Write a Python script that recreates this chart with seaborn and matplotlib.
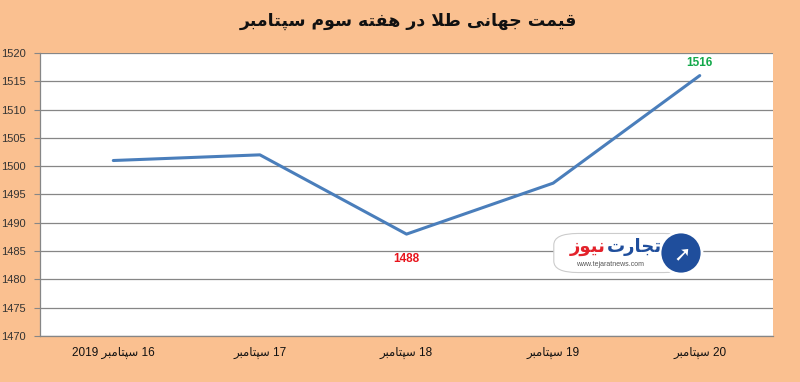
import matplotlib
matplotlib.use("Agg")
import matplotlib.pyplot as plt
import seaborn as sns
import pandas as pd
from matplotlib.patches import FancyBboxPatch, Ellipse

# data
days = ["16 سپتامبر 2019", "17 سپتامبر", "18 سپتامبر", "19 سپتامبر", "20 سپتامبر"]
prices = [1501, 1502, 1488, 1497, 1516]
title_txt = "قیمت جهانی طلا در هفته سوم سپتامبر"
yticks = list(range(1470, 1521, 5))

bg = "#FAC090"
line_col = "#4A7EBB"
grid_col = "#868686"

# minimal persian shaping (matplotlib has no complex text layout)
FORMS = {
    'ا': ('\uFE8D', '\uFE8E', None, None),
    'ب': ('\uFE8F', '\uFE90', '\uFE91', '\uFE92'),
    'پ': ('\uFB56', '\uFB57', '\uFB58', '\uFB59'),
    'ت': ('\uFE95', '\uFE96', '\uFE97', '\uFE98'),
    'ج': ('\uFE9D', '\uFE9E', '\uFE9F', '\uFEA0'),
    'د': ('\uFEA9', '\uFEAA', None, None),
    'ر': ('\uFEAD', '\uFEAE', None, None),
    'ز': ('\uFEAF', '\uFEB0', None, None),
    'س': ('\uFEB1', '\uFEB2', '\uFEB3', '\uFEB4'),
    'ط': ('\uFEC1', '\uFEC2', '\uFEC3', '\uFEC4'),
    'ف': ('\uFED1', '\uFED2', '\uFED3', '\uFED4'),
    'ق': ('\uFED5', '\uFED6', '\uFED7', '\uFED8'),
    'ل': ('\uFEDD', '\uFEDE', '\uFEDF', '\uFEE0'),
    'م': ('\uFEE1', '\uFEE2', '\uFEE3', '\uFEE4'),
    'ن': ('\uFEE5', '\uFEE6', '\uFEE7', '\uFEE8'),
    'ه': ('\uFEE9', '\uFEEA', '\uFEEB', '\uFEEC'),
    'و': ('\uFEED', '\uFEEE', None, None),
    'ی': ('\uFBFC', '\uFBFD', '\uFBFE', '\uFBFF'),
}


def dual(c):
    return c in FORMS and FORMS[c][2] is not None


def shape_word(w):
    if not any(c in FORMS for c in w):
        return w
    out = []
    i = 0
    while i < len(w):
        c = w[i]
        if c not in FORMS:
            out.append(c)
            i += 1
            continue
        jp = i > 0 and dual(w[i - 1])
        if c == 'ل' and i + 1 < len(w) and w[i + 1] == 'ا':
            out.append('\uFEFC' if jp else '\uFEFB')
            i += 2
            continue
        jn = dual(c) and i + 1 < len(w) and w[i + 1] in FORMS
        iso, fin, ini, med = FORMS[c]
        out.append(med if jp and jn else fin if jp else ini if jn else iso)
        i += 1
    return ''.join(reversed(out))


def fa(text):
    return ' '.join(shape_word(w) for w in reversed(text.split(' ')))


sns.set_style("white")
plt.rcParams['font.family'] = ['Liberation Sans', 'DejaVu Sans']

df = pd.DataFrame({"x": range(len(days)), "price": prices})

fig = plt.figure(figsize=(8, 3.82), dpi=100, facecolor=bg)
ax = fig.add_axes([0.05, 0.1204, 0.9163, 0.741])
sns.lineplot(data=df, x="x", y="price", ax=ax, color=line_col, linewidth=2.2)

ax.set_xlim(-0.5, len(days) - 0.5)
ax.set_ylim(1470, 1520)
ax.set_yticks(yticks)
ax.set_yticklabels([str(v) for v in yticks], fontsize=8, color="#333333")
ax.yaxis.grid(True, color=grid_col, linewidth=0.9)
ax.set_axisbelow(True)

# category labels centred, tick marks on the boundaries
ax.set_xticks(range(len(days)))
ax.set_xticklabels([fa(d) for d in days], fontsize=8.5, color="#111111")
ax.set_xticks([i - 0.5 for i in range(len(days) + 1)], minor=True)
ax.tick_params(axis="x", which="major", length=0, pad=8)
ax.tick_params(axis="x", which="minor", length=4, color=grid_col, direction="out")
ax.tick_params(axis="y", length=4, color=grid_col, direction="out", left=True, pad=6)
ax.set_xlabel("")
ax.set_ylabel("")

for side in ["top", "right"]:
    ax.spines[side].set_visible(False)
for side in ["left", "bottom"]:
    ax.spines[side].set_color(grid_col)
    ax.spines[side].set_linewidth(0.9)

# value labels
ax.annotate(str(prices[2]), (2, prices[2]), xytext=(0, -18), textcoords="offset points",
            ha="center", va="center", color="#E8141C", fontsize=8.5, fontweight="bold")
ax.annotate(str(prices[4]), (4, prices[4]), xytext=(0, 9), textcoords="offset points",
            ha="center", va="center", color="#12A84A", fontsize=8.5, fontweight="bold")

fig.text(0.51, 0.945, fa(title_txt), ha="center", va="center", fontsize=12.5,
         fontweight="bold", family=["DejaVu Sans"], color="#111111")

# watermark logo (approximation)
box = FancyBboxPatch((557 / 800, 1 - 271 / 382), 128 / 800, 36 / 382,
                     boxstyle="round,pad=0.004,rounding_size=0.03", transform=fig.transFigure,
                     facecolor="white", edgecolor="#cccccc", linewidth=0.8, zorder=5)
fig.patches.append(box)
circ = Ellipse((681 / 800, 1 - 253 / 382), 42 / 800, 42 / 382, transform=fig.transFigure,
               facecolor="#1F4E9C", edgecolor="white", linewidth=2, zorder=6)
fig.patches.append(circ)
fig.text(682 / 800, 1 - 254 / 382, "➚", ha="center", va="center", fontsize=15,
         color="white", family=["DejaVu Sans"], zorder=7)
fig.text(634 / 800, 1 - 247 / 382, fa("تجارت"), ha="center", va="center", fontsize=13,
         fontweight="bold", color="#1F4E9C", family=["DejaVu Sans"], zorder=7)
fig.text(588 / 800, 1 - 247 / 382, fa("نیوز"), ha="center", va="center", fontsize=13,
         fontweight="bold", color="#E3222B", family=["DejaVu Sans"], zorder=7)
fig.text(610 / 800, 1 - 264 / 382, "www.tejaratnews.com", ha="center", va="center",
         fontsize=5, color="#555555", zorder=7)

fig.savefig("out.png", dpi=100, facecolor=bg)
